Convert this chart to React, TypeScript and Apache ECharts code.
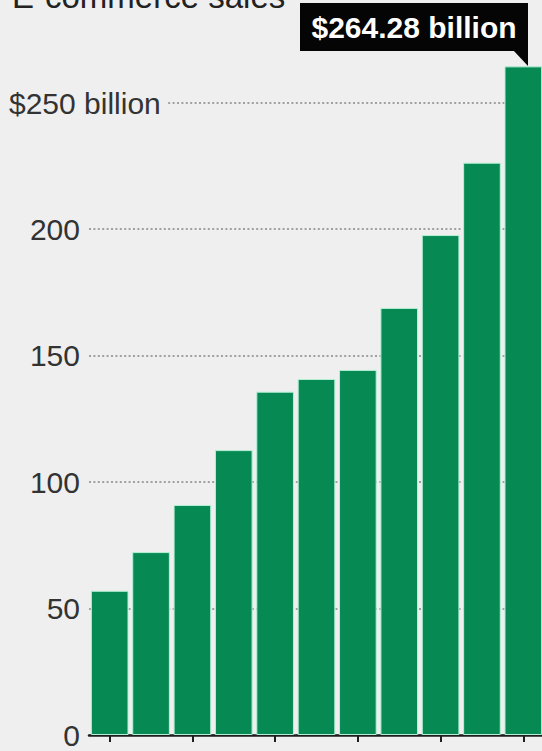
import React, { useEffect, useRef } from "react";
import * as echarts from "echarts";

const categories = ["2003", "2004", "2005", "2006", "2007", "2008", "2009", "2010", "2011", "2012", "2013"];
const sales = [57.0, 72.3, 90.9, 112.6, 135.7, 140.7, 144.3, 168.8, 197.6, 226.2, 264.28];
const titleText = "E-commerce sales";
const calloutText = "$264.28 billion";
const topTickText = "$250 billion";

export default function App() {
  const ref = useRef<HTMLDivElement>(null);
  useEffect(() => {
    if (!ref.current) return;
    const chart = echarts.init(ref.current, null, { renderer: "svg" });
    chart.setOption({
      animation: false,
      backgroundColor: "#efefef",
      grid: { left: 89, right: -2, top: -24, bottom: 16, containLabel: false, outerBoundsMode: "none" },
      xAxis: {
        type: "category",
        data: categories,
        axisLine: { show: true, lineStyle: { color: "#1e1e1e", width: 2.5 } },
        axisTick: { show: true, alignWithLabel: true, interval: 1, length: 7, lineStyle: { color: "#1e1e1e", width: 2 } },
        axisLabel: { show: false },
        splitLine: { show: false },
      },
      yAxis: {
        type: "value",
        min: 0,
        max: 300,
        interval: 50,
        axisLine: { show: false },
        axisTick: { show: false },
        axisLabel: {
          margin: 9,
          fontFamily: "Liberation Sans, Arial, sans-serif",
          fontSize: 30,
          color: "#333",
          formatter: (v: number) => (v >= 250 ? "" : String(v)),
        },
        splitLine: { show: true, lineStyle: { color: "#a0a0a0", width: 2, type: [2, 2.4] } },
      },
      series: [
        {
          type: "bar",
          data: sales,
          barCategoryGap: "9%",
          itemStyle: { color: "#078953", borderColor: "#b4f0d6", borderWidth: 1 },
          z: 3,
        },
      ],
      graphic: [
        {
          type: "rect",
          shape: { x: 86, y: 97, width: 82, height: 11 },
          style: { fill: "#efefef" },
          z: 1,
        },
        {
          type: "text",
          x: 9,
          y: 103,
          style: {
            text: topTickText,
            fontFamily: "Liberation Sans, Arial, sans-serif",
            fontSize: 30,
            fill: "#333",
            align: "left",
            verticalAlign: "middle",
          },
          z: 2,
        },
        {
          type: "text",
          left: 12,
          top: -20,
          style: {
            text: titleText,
            fontFamily: "Liberation Sans, Arial, sans-serif",
            fontSize: 33,
            fill: "#222",
          },
        },
        {
          type: "rect",
          shape: { x: 300, y: 3, width: 228, height: 48 },
          style: { fill: "#050505" },
          z: 10,
        },
        {
          type: "polygon",
          shape: { points: [[513, 50], [528, 50], [528, 66]] },
          style: { fill: "#050505" },
          z: 10,
        },
        {
          type: "text",
          x: 414,
          y: 27,
          style: {
            text: calloutText,
            fontFamily: "Liberation Sans Narrow, Liberation Sans, Arial, sans-serif",
            fontWeight: "bold",
            fontSize: 30,
            fill: "#fff",
            align: "center",
            verticalAlign: "middle",
          },
          z: 11,
        },
      ],
    });
    return () => chart.dispose();
  }, []);
  return <div ref={ref} style={{ position: "fixed", left: 0, top: 0, width: 542, height: 751 }} />;
}
